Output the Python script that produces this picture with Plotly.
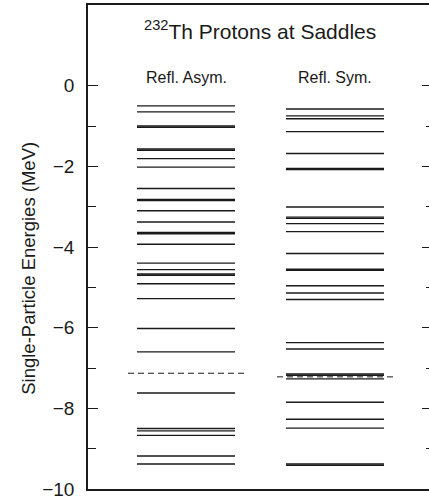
import plotly.graph_objects as go

# Single-particle proton levels (MeV) at the two saddle shapes.
# Close-lying pairs show up as a heavier bar.
asym_levels = [-0.50, -0.65, -1.00, -1.03, -1.57, -1.60, -1.81, -2.02, -2.55,
               -2.82, -2.85, -3.10, -3.38, -3.64, -3.67, -3.93, -4.40, -4.56,
               -4.67, -4.70, -4.91, -5.28, -6.02, -6.60, -7.62, -8.50, -8.56,
               -8.67, -9.18, -9.38]
sym_levels = [-0.58, -0.75, -0.82, -1.14, -1.68, -2.05, -2.08, -3.01, -3.26,
              -3.29, -3.42, -3.62, -4.16, -4.55, -4.58, -4.96, -5.14, -5.30,
              -6.37, -6.53, -7.15, -7.18, -7.27, -7.85, -8.27, -8.49, -9.38,
              -9.41]
# Fermi levels (dashed)
asym_fermi = -7.13
sym_fermi = -7.22

column_labels = ["Refl. Asym.", "Refl. Sym."]
title_text = "<sup>232</sup>Th Protons at Saddles"
y_title = "Single-Particle Energies (MeV)"
major_ticks = [0, -2, -4, -6, -8, -10]
major_tick_text = ["0", "\u22122", "\u22124", "\u22126", "\u22128", "\u221210"]
minor_ticks = [-1, -3, -5, -7, -9]

# horizontal extents of each column (x axis runs 0..341)
level_span = [(49, 147), (198, 296)]
fermi_span = [(40, 157), (189, 305)]

ink = "#1a1a1a"
font_family = "Liberation Sans, Arial, Helvetica, sans-serif"


def segments(values, span):
    xs, ys = [], []
    for v in values:
        xs += [span[0], span[1], None]
        ys += [v, v, None]
    return xs, ys


fig = go.Figure()
for levels, span in zip([asym_levels, sym_levels], level_span):
    xs, ys = segments(levels, span)
    fig.add_trace(go.Scatter(x=xs, y=ys, mode="lines",
                             line=dict(color=ink, width=1.4),
                             hoverinfo="skip", showlegend=False))
for fermi, span in zip([asym_fermi, sym_fermi], fermi_span):
    xs, ys = segments([fermi], span)
    fig.add_trace(go.Scatter(x=xs, y=ys, mode="lines",
                             line=dict(color=ink, width=1, dash="6px,4px"),
                             hoverinfo="skip", showlegend=False))
# carrier for the right-hand tick axis
fig.add_trace(go.Scatter(x=[None], y=[None], yaxis="y2", showlegend=False,
                         hoverinfo="skip"))

fig.update_layout(
    width=429, height=499,
    margin=dict(l=88, r=0, t=5, b=10),
    paper_bgcolor="white", plot_bgcolor="white",
    font=dict(family=font_family, color=ink),
    xaxis=dict(range=[0, 341], showline=True, mirror=True, linecolor=ink,
               linewidth=1.5, showticklabels=False, ticks="", showgrid=False,
               zeroline=False),
    yaxis=dict(range=[-10, 2], showline=True, linecolor=ink, linewidth=1.5,
               tickvals=major_ticks, ticktext=major_tick_text,
               ticks="inside", ticklen=10, tickwidth=1.2, tickcolor=ink,
               tickfont=dict(size=19, color=ink), ticklabelstandoff=8,
               ticklabeloverflow="allow",
               minor=dict(tickvals=minor_ticks, ticks="inside", ticklen=8,
                          tickwidth=1.2, tickcolor=ink),
               showgrid=False, zeroline=False),
    yaxis2=dict(range=[-10, 2], overlaying="y", side="right", showline=False,
                tickvals=major_ticks, ticks="inside", ticklen=7, tickwidth=1.2,
                tickcolor=ink, showticklabels=False,
                minor=dict(tickvals=minor_ticks, ticks="inside", ticklen=3,
                           tickwidth=1.2, tickcolor=ink),
                showgrid=False, zeroline=False),
    annotations=[
        dict(text=title_text, x=172, y=1.38, xref="x", yref="y",
             showarrow=False, font=dict(size=21, color=ink)),
        dict(text=column_labels[0], x=98, y=0.2, xref="x", yref="y",
             showarrow=False, font=dict(size=16, color=ink)),
        dict(text=column_labels[1], x=247, y=0.2, xref="x", yref="y",
             showarrow=False, font=dict(size=16, color=ink)),
        dict(text=y_title, x=-0.173, y=0.455, xref="paper", yref="paper",
             xanchor="center", yanchor="middle",
             textangle=-90, showarrow=False, font=dict(size=18.5, color=ink)),
    ],
)

fig.write_html("out.html")
